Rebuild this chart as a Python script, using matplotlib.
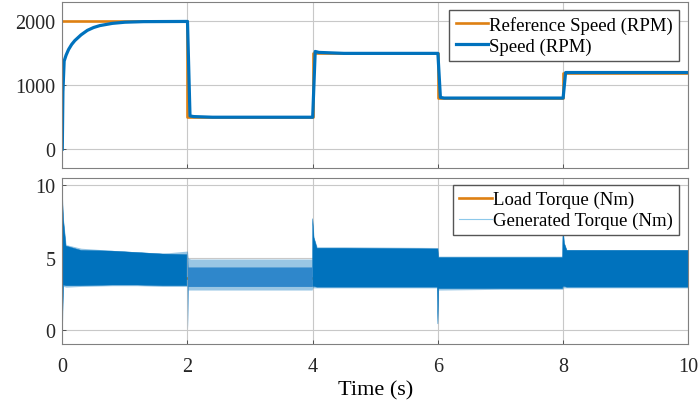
import numpy as np
import matplotlib
matplotlib.use("Agg")
import matplotlib.pyplot as plt
from matplotlib.lines import Line2D

plt.rcParams['font.family'] = ['Liberation Serif', 'DejaVu Serif']

BLUE = '#0072BD'
LIGHT_BLUE = '#2f87cb'
ORANGE = '#DE8012'

# Speed reference (step changes every 2 s) and measured speed
ref_t = [0, 2, 4, 6, 8, 10]
ref_speed = [2000, 500, 1500, 800, 1200, 1200]

speed_t = [0, 0.01, 0.03, 0.06, 0.1, 0.15, 0.2, 0.3, 0.4, 0.5, 0.6, 0.8, 1.0, 1.3,
           2.0, 2.04, 2.1, 2.4, 4.0, 4.04, 4.1, 4.5, 6.0, 6.04, 6.1, 6.4, 8.0, 8.04, 10.0]
speed = [0, 900, 1380, 1470, 1560, 1640, 1700, 1790, 1860, 1905, 1935, 1970, 1988, 1997,
         2000, 520, 510, 500, 500, 1530, 1515, 1500, 1500, 810, 800, 800, 800, 1200, 1200]

# Load torque (constant)
load_t = [0, 10]
load_torque = [3.6, 3.6]

# Generated torque ripple band: dense core and outer peaks
torque_t = [0.0, 0.02, 0.06, 0.3, 0.8, 1.2, 1.6, 1.99,
            2.0, 2.01, 2.05, 3.0, 3.99,
            4.0, 4.02, 4.07, 4.5, 5.99,
            6.0, 6.01, 6.05, 7.0, 7.99,
            8.0, 8.02, 8.06, 9.0, 10.0]
core_hi = [9.4, 7.6, 5.8, 5.5, 5.45, 5.35, 5.25, 5.2,
           5.2, 4.35, 4.35, 4.35, 4.35,
           7.7, 6.4, 5.65, 5.65, 5.6,
           5.6, 5.0, 5.0, 5.0, 5.0,
           7.0, 6.0, 5.5, 5.5, 5.5]
core_lo = [0.0, 3.1, 3.05, 3.05, 3.1, 3.1, 3.05, 3.05,
           0.0, 3.0, 3.0, 3.0, 3.0,
           3.0, 3.0, 2.95, 2.95, 2.95,
           0.4, 2.85, 2.85, 2.85, 2.85,
           3.0, 3.0, 2.95, 2.95, 2.95]
peak_hi = [9.4, 7.6, 5.9, 5.65, 5.5, 5.4, 5.3, 5.45,
           5.45, 4.95, 4.9, 4.9, 4.9,
           7.7, 6.4, 5.75, 5.75, 5.7,
           5.7, 5.1, 5.1, 5.1, 5.1,
           7.0, 6.0, 5.55, 5.55, 5.55]
peak_lo = [0.0, 3.0, 2.95, 3.0, 3.05, 3.05, 3.0, 3.0,
           0.0, 2.75, 2.75, 2.75, 2.75,
           2.9, 2.9, 2.9, 2.9, 2.9,
           0.4, 2.75, 2.75, 2.8, 2.8,
           2.9, 2.9, 2.9, 2.9, 2.9]

fig = plt.figure(figsize=(6.99, 4.06), dpi=100)
ax1 = fig.add_axes([0.0891, 0.583, 0.8956, 0.4089])
ax2 = fig.add_axes([0.0891, 0.150, 0.8956, 0.4084])

for ax in (ax1, ax2):
    ax.set_xlim(0, 10)
    ax.set_xticks([0, 2, 4, 6, 8, 10])
    ax.grid(True, color='#c8c8c8', linewidth=0.8)
    ax.set_axisbelow(True)
    ax.tick_params(direction='in', length=3, width=0.6, colors='#404040',
                   labelsize=14.5, labelcolor='#262626')
    ax.tick_params(axis='y', pad=5)
    ax.tick_params(axis='x', pad=9)
    for s in ax.spines.values():
        s.set_color('#808080')
        s.set_linewidth(0.8)

legend_style = dict(loc='upper right', fontsize=13.5, fancybox=False, framealpha=1,
                    edgecolor='#555555', borderpad=0.33, labelspacing=0.18,
                    handlelength=1.75, handletextpad=0.05, borderaxespad=0)

# Speed
ax1.plot(ref_t, ref_speed, color=ORANGE, lw=1.9, drawstyle='steps-post',
         label='Reference Speed (RPM)')
ax1.plot(speed_t, speed, color=BLUE, lw=2.3, label='Speed (RPM)')
ax1.set_ylim(-300, 2300)
ax1.set_yticks([0, 1000, 2000])
ax1.tick_params(labelbottom=False)
ax1.legend(bbox_to_anchor=(0.9856, 0.9536), **legend_style)

# Torque
t = np.array(torque_t)
sparse = (t >= 2.0) & (t < 4.0)
ax2.plot(load_t, load_torque, color=ORANGE, lw=1.9, zorder=1)
ax2.fill_between(torque_t, peak_lo, peak_hi, color=BLUE, alpha=0.4, lw=0, zorder=2)
ax2.fill_between(torque_t, core_lo, core_hi, where=~sparse, color=BLUE, lw=0.3,
                 edgecolor=BLUE, zorder=2)
ax2.fill_between(torque_t, core_lo, core_hi, where=sparse, color=LIGHT_BLUE,
                 lw=0, zorder=2)
ax2.set_ylim(-1, 10.5)
ax2.set_yticks([0, 5, 10])
ax2.set_xlabel('Time (s)', fontsize=16, labelpad=3)
handles = [Line2D([], [], color=ORANGE, lw=1.9),
           Line2D([], [], color='#8cc8ea', lw=0.8)]
ax2.legend(handles, ['Load Torque (Nm)', 'Generated Torque (Nm)'],
           bbox_to_anchor=(0.9856, 0.9596), **legend_style)

fig.savefig('out.png', dpi=100)
